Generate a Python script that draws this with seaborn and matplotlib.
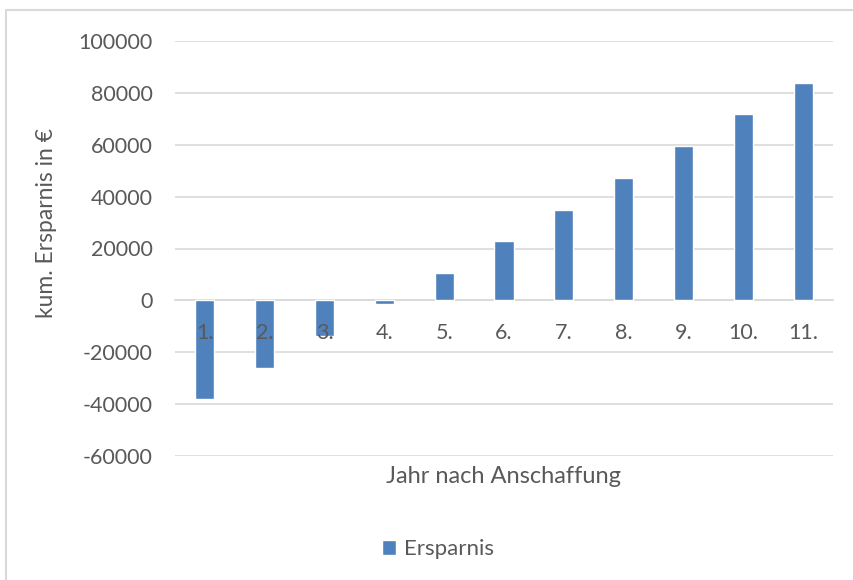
import seaborn as sns
import pandas as pd
import matplotlib.pyplot as plt
from matplotlib.patches import Rectangle

# Daten
jahre = ['1.', '2.', '3.', '4.', '5.', '6.', '7.', '8.', '9.', '10.', '11.']
ersparnis = [-38000, -25900, -13600, -1300, 10700, 22800, 35000, 47200, 59400, 71800, 84000]
yticks = [-60000, -40000, -20000, 0, 20000, 40000, 60000, 80000, 100000]

df = pd.DataFrame({'Jahr': jahre, 'Ersparnis': ersparnis})

sns.set_style('white')
plt.rcParams['font.family'] = ['Lato', 'DejaVu Sans']
textfarbe = '#595959'
gitter = '#d9d9d9'

fig = plt.figure(figsize=(8.54, 5.8), dpi=100)
ax = fig.add_axes([175 / 854, 1 - 456 / 580, 658 / 854, 415 / 580])

sns.barplot(data=df, x='Jahr', y='Ersparnis', color='#4f81bd', width=0.32,
            saturation=1, label='Ersparnis', ax=ax, legend=False)

ax.set_ylim(-60000, 100000)
ax.set_yticks(yticks)
ax.set_yticklabels([str(v) for v in yticks])
ax.set_xlim(-0.5, len(jahre) - 0.5)
ax.yaxis.grid(True, color=gitter, lw=1.2)
ax.set_axisbelow(True)
# x-Beschriftungen liegen über den Balken
ax.xaxis.set_zorder(3)

for s in ['top', 'right', 'left']:
    ax.spines[s].set_visible(False)
ax.spines['bottom'].set_position(('data', 0))
ax.spines['bottom'].set_color(gitter)
ax.spines['bottom'].set_linewidth(1.2)
ax.spines['bottom'].set_zorder(0.6)

ax.tick_params(axis='x', length=0, pad=16, labelsize=15.5, labelcolor=textfarbe)
ax.tick_params(axis='y', length=0, pad=16, labelsize=15.5, labelcolor=textfarbe)

ax.set_ylabel('kum. Ersparnis in €', fontsize=16.5, color=textfarbe)
ax.yaxis.set_label_coords((57 - 175) / 658, (456 - 223) / 415)
ax.set_xlabel('Jahr nach Anschaffung', fontsize=17, color=textfarbe)
ax.xaxis.set_label_coords(0.5, (456 - 466) / 415)

handles, labels = ax.get_legend_handles_labels()
fig.legend(handles[:1], labels[:1], loc='center', bbox_to_anchor=(438 / 854, 1 - 549 / 580),
           frameon=False, fontsize=16, labelcolor=textfarbe,
           handlelength=0.65, handleheight=0.65, handletextpad=0.35)

# Rahmen um das Diagramm
fig.patches.append(Rectangle((6 / 854, -0.05), 1.0, 1 - 10 / 580 + 0.05,
                             transform=fig.transFigure, fill=False, ec=gitter, lw=1.5))

fig.savefig('out.png', dpi=100)
